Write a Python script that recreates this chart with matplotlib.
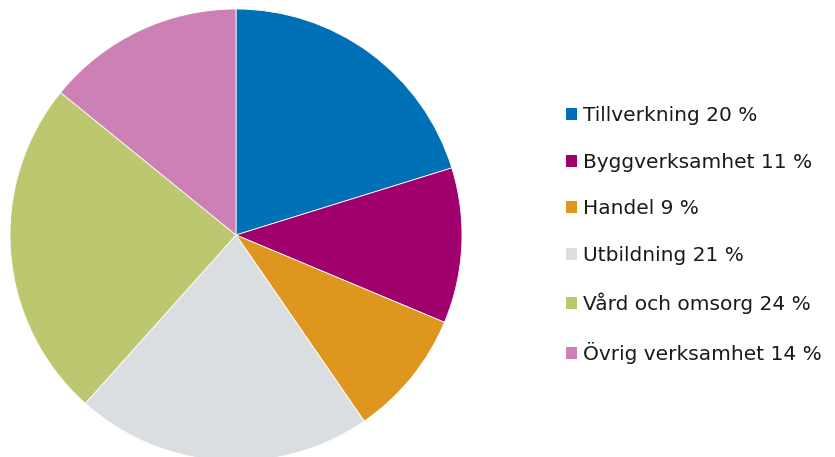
import matplotlib
matplotlib.use('Agg')
import matplotlib.pyplot as plt
from matplotlib.patches import Patch

# Sector shares (percent)
sectors = ["Tillverkning", "Byggverksamhet", "Handel", "Utbildning",
           "Vård och omsorg", "Övrig verksamhet"]
shares = [20, 11, 9, 21, 24, 14]
colors = ["#0070b6", "#9f006e", "#de961f", "#dadee1", "#bcc770", "#cd80b5"]

fig = plt.figure(figsize=(8.35, 4.57), dpi=100, facecolor="white")
ax = fig.add_axes([10 / 835, -4 / 457, 452 / 835, 452 / 457])
ax.pie(shares, colors=colors, startangle=90, counterclock=False, radius=1,
       wedgeprops=dict(edgecolor="white", linewidth=0.6))
ax.set_xlim(-1, 1)
ax.set_ylim(-1, 1)
ax.set_aspect("equal")
ax.axis("off")

handles = [Patch(facecolor=c, edgecolor="none") for c in colors]
labels = [f"{s} {v} %" for s, v in zip(sectors, shares)]
fig.legend(handles, labels, loc="center left", bbox_to_anchor=(556 / 835, 222 / 457),
           frameon=False, fontsize=14.5, labelcolor="#1a1a1a",
           handlelength=0.55, handleheight=0.55, handletextpad=0.3,
           labelspacing=1.37, borderpad=0)

fig.savefig("out.png", dpi=100, facecolor="white")
